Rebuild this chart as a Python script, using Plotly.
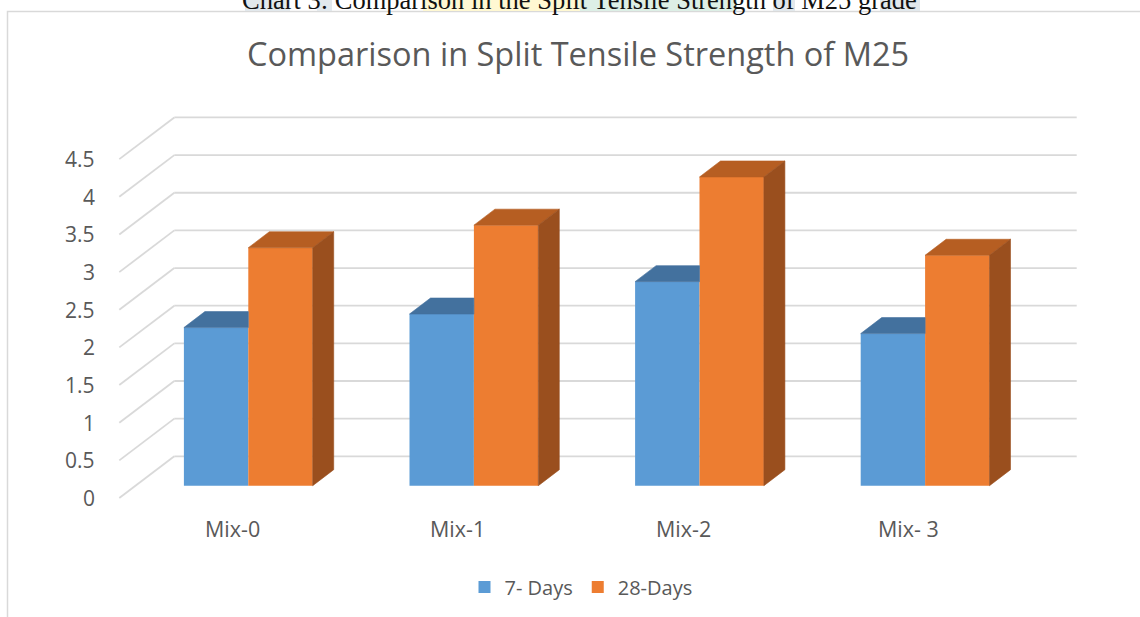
import plotly.graph_objects as go

# ---------------- data ----------------
categories = ["Mix-0", "Mix-1", "Mix-2", "Mix- 3"]
series_names = ["7- Days", "28-Days"]
days7 = [2.10, 2.28, 2.71, 2.02]
days28 = [3.16, 3.46, 4.10, 3.06]
y_tick_vals = [0, 0.5, 1, 1.5, 2, 2.5, 3, 3.5, 4, 4.5]
y_tick_labels = ["0", "0.5", "1", "1.5", "2", "2.5", "3", "3.5", "4", "4.5"]
chart_title = "Comparison in Split Tensile Strength of M25"
caption = "Chart 3: Comparison in the Split Tensile Strength of M25 grade"

# ---------------- geometry (pixel scale of the oblique projection) ----------------
W, H = 1140, 617
PX_CAT = 225.6      # px per category
PX_VAL = 75.3       # px per value unit
X0_PX = 248.3       # px of category 0 centre (bar front plane)
Y0_PX = 485.7       # px of value 0 (bar front plane)

def dxp(px):
    return px / PX_CAT

def dyp(px):
    return px / PX_VAL

x_range = [-X0_PX / PX_CAT, (W - X0_PX) / PX_CAT]
y_range = [-(H - Y0_PX) / PX_VAL, Y0_PX / PX_VAL]

BAR_W = dxp(64.4)
DEPTH = (dxp(21), dyp(16))          # bar depth offset
FRONT = (dxp(-16.2), dyp(-12.3))    # floor front edge offset
BACK = (dxp(38.8), dyp(29.4))       # back wall offset
N = len(categories)

C_BLUE, C_BLUE_TOP = "#5B9BD5", "#43719E"
C_OR, C_OR_TOP, C_OR_SIDE = "#ED7D31", "#B65E22", "#9A4F1E"
TXT = "#595959"
GRID = "#D9D9D9"
FONT = "Open Sans"

fig = go.Figure()

# front faces
fig.add_trace(go.Bar(x=list(range(N)), y=days7, width=BAR_W, offset=-BAR_W, base=0,
                     name=series_names[0], marker=dict(color=C_BLUE, line=dict(width=0)),
                     hoverinfo="skip"))
fig.add_trace(go.Bar(x=list(range(N)), y=days28, width=BAR_W, offset=0, base=0,
                     name=series_names[1], marker=dict(color=C_OR, line=dict(width=0)),
                     hoverinfo="skip"))

def poly(xs, ys, color):
    fig.add_trace(go.Scatter(x=xs + [xs[0]], y=ys + [ys[0]], mode="lines", fill="toself",
                             fillcolor=color, line=dict(color=color, width=0.6),
                             showlegend=False, hoverinfo="skip"))

dx, dy = DEPTH
for i in range(N):
    # 7-days: top (part not hidden by the taller 28-days bar)
    xl, xr, v = i - BAR_W, i, days7[i]
    poly([xl, xr, xr, xl + dx], [v, v, v + dy, v + dy], C_BLUE_TOP)
    # 28-days: top and side
    xl, xr, v = i, i + BAR_W, days28[i]
    poly([xl, xr, xr + dx, xl + dx], [v, v, v + dy, v + dy], C_OR_TOP)
    poly([xr, xr, xr + dx, xr + dx], [0, v, v + dy, dy], C_OR_SIDE)

# gridlines: back wall + left wall diagonals
shapes = []
x_left, x_right = -0.5, N - 0.5
for v in y_tick_vals:
    shapes.append(dict(type="line", xref="x", yref="y", layer="below",
                       x0=x_left + BACK[0], y0=v + BACK[1], x1=x_right + BACK[0], y1=v + BACK[1],
                       line=dict(color=GRID, width=1.8)))
    shapes.append(dict(type="line", xref="x", yref="y", layer="below",
                       x0=x_left + FRONT[0], y0=v + FRONT[1], x1=x_left + BACK[0], y1=v + BACK[1],
                       line=dict(color=GRID, width=1.8)))

# chart border
shapes.append(dict(type="rect", xref="paper", yref="paper", layer="below",
                   x0=7.5 / W, x1=1.02, y0=-0.02, y1=1 - 11.5 / H,
                   line=dict(color=GRID, width=1.5), fillcolor="rgba(0,0,0,0)"))

# faint highlight blocks behind the cropped caption
for (a, b, col) in [(245, 290, "#E2E8EC"), (317, 332, "#E2E8EC"), (423, 580, "#FFF8D2"),
                    (580, 737, "#DDEFE6"), (773, 795, "#E2E8EC"), (880, 920, "#E2E8EC")]:
    shapes.append(dict(type="rect", xref="paper", yref="paper", layer="below",
                       x0=a / W, x1=b / W, y0=1 - 11 / H, y1=1.01,
                       line=dict(width=0), fillcolor=col))

annotations = []
for v, lab in zip(y_tick_vals, y_tick_labels):
    annotations.append(dict(x=x_left + FRONT[0] - dxp(22), y=v + FRONT[1], xref="x", yref="y",
                            text=lab, showarrow=False, xanchor="right", yanchor="middle",
                            font=dict(family=FONT, size=21, color=TXT)))
for i, lab in enumerate(categories):
    annotations.append(dict(x=i + FRONT[0], y=FRONT[1] - dyp(30), xref="x", yref="y",
                            text=lab, showarrow=False, xanchor="center", yanchor="middle",
                            font=dict(family=FONT, size=21.5, color=TXT)))
annotations.append(dict(x=578 / W, y=1 - 54 / H, xref="paper", yref="paper", text=chart_title,
                        showarrow=False, xanchor="center", yanchor="middle",
                        font=dict(family=FONT, size=32.5, color=TXT)))
annotations.append(dict(x=579 / W, y=1 - 17 / H, xref="paper", yref="paper", text=caption,
                        showarrow=False, xanchor="center", yanchor="bottom",
                        font=dict(family="Liberation Serif", size=26.5, color="#111111")))

fig.update_layout(
    width=W, height=H,
    margin=dict(l=0, r=0, t=0, b=0),
    paper_bgcolor="white", plot_bgcolor="white",
    barmode="overlay",
    xaxis=dict(range=x_range, visible=False, fixedrange=True),
    yaxis=dict(range=y_range, visible=False, fixedrange=True),
    shapes=shapes,
    annotations=annotations,
    showlegend=True,
    legend=dict(orientation="h", x=581 / W, xanchor="center", y=1 - 587 / H, yanchor="middle",
                font=dict(family=FONT, size=20, color=TXT), bgcolor="rgba(0,0,0,0)",
                traceorder="normal"),
)

fig.write_html("out.html", config={"displayModeBar": False},
               post_script="document.body.style.margin='0';")
